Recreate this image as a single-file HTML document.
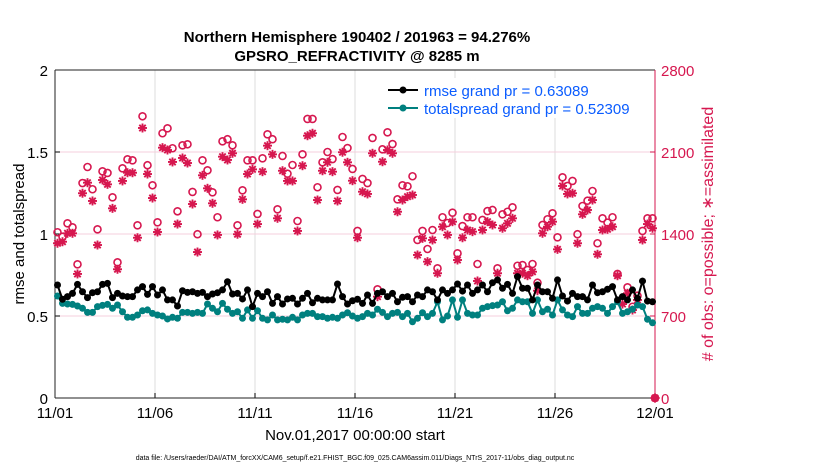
<!DOCTYPE html>
<html><head><meta charset="utf-8"><style>
html,body{margin:0;padding:0;background:#fff;}
svg text{font-family:"Liberation Sans",Arial,sans-serif;}
</style></head><body>
<svg id="chart" width="830" height="470" xmlns="http://www.w3.org/2000/svg">
<rect width="830" height="470" fill="#fff"/>
<text x="357" y="42" font-size="15" font-weight="bold" text-anchor="middle">Northern Hemisphere 190402 / 201963 = 94.276%</text>
<text x="357" y="61" font-size="15" font-weight="bold" text-anchor="middle">GPSRO_REFRACTIVITY @ 8285 m</text>
<g id="grid"></g>
<g id="axes"></g>
<g id="marks"></g>
<text transform="translate(24,234) rotate(-90)" font-size="15" text-anchor="middle">rmse and totalspread</text>
<text transform="translate(713,234) rotate(-90)" font-size="16" text-anchor="middle" fill="#d6174f"># of obs: o=possible; ∗=assimilated</text>
<text x="355" y="440" font-size="15" text-anchor="middle">Nov.01,2017 00:00:00 start</text>
<text x="355" y="460" font-size="7" text-anchor="middle">data file: /Users/raeder/DAI/ATM_forcXX/CAM6_setup/f.e21.FHIST_BGC.f09_025.CAM6assim.011/Diags_NTrS_2017-11/obs_diag_output.nc</text>
<g>
<rect x="383" y="78" width="205" height="40" fill="#fff"/>
<g>
<line x1="388" y1="90" x2="418" y2="90" stroke="#000" stroke-width="2"/>
<circle cx="403" cy="90" r="3.5" fill="#000"/>
<text x="424" y="96" font-size="15" fill="#0a5cff">rmse grand pr = 0.63089</text>
</g>
<g>
<line x1="388" y1="108" x2="418" y2="108" stroke="#00807f" stroke-width="2"/>
<circle cx="403" cy="108" r="3.5" fill="#00807f"/>
<text x="424" y="114" font-size="15" fill="#0a5cff">totalspread grand pr = 0.52309</text>
</g>
</g>
</svg>
<script>
const rmse=[.689,.602,.618,.638,.693,.648,.612,.642,.648,.693,.699,.612,.638,.622,.618,.618,.659,.679,.632,.679,.628,.659,.598,.598,.561,.654,.644,.648,.638,.644,.618,.634,.642,.659,.709,.634,.638,.604,.659,.557,
.638,.618,.648,.577,.618,.573,.604,.608,.573,.608,.638,.581,.608,.598,.598,.598,.695,.618,.573,.593,.602,.577,.628,.577,.638,.648,.618,.638,.587,.614,.618,.587,.628,.618,.659,.648,.598,.659,.638,.659,
.695,.652,.689,.638,.659,.689,.648,.703,.72,.669,.693,.638,.74,.669,.669,.598,.689,.648,.648,.608,.72,.622,.591,.638,.618,.618,.598,.689,.642,.648,.663,.679,.598,.618,.598,.659,.608,.713,.591,.587];
const spread=[.622,.577,.573,.571,.561,.547,.522,.522,.557,.565,.571,.547,.567,.526,.492,.492,.506,.532,.537,.516,.506,.500,.482,.492,.486,.522,.522,.516,.522,.516,.573,.547,.526,.577,.541,.516,.526,.486,.537,.486,
.532,.486,.476,.506,.476,.480,.476,.492,.476,.506,.516,.516,.496,.496,.486,.492,.486,.506,.520,.500,.486,.496,.516,.506,.541,.522,.496,.516,.522,.496,.516,.465,.486,.520,.496,.516,.587,.476,.500,.598,
.492,.598,.516,.506,.506,.547,.557,.563,.567,.587,.532,.547,.598,.587,.587,.516,.598,.526,.541,.506,.598,.537,.506,.496,.557,.516,.516,.547,.557,.547,.516,.557,.587,.516,.526,.541,.567,.557,.480,.459];
const possible=[1415,1377,1491,1457,1141,1835,1972,1782,1440,1935,1921,1713,1158,1961,2038,2029,1474,2405,1987,1816,1500,2260,2302,2132,1594,2157,2166,1759,1398,2029,1944,1756,1543,2191,2209,2157,1474,1773,2029,2029,
1571,2046,2251,2209,1611,2066,1915,1989,1511,2080,2382,2382,1799,2012,2100,2040,1776,2228,2134,1955,1426,1870,1835,2220,928,2123,2268,2168,1696,1816,1807,1893,1349,1426,1272,1434,1107,1543,1494,1582,
1235,1468,1543,1543,1144,1520,1596,1605,1107,1568,1590,1628,1129,1135,1093,1144,984,1477,1526,1577,1372,1884,1810,1853,1398,1639,1684,1767,1321,1534,1497,1543,1059,837,945,779,873,1426,1534,1534,0];
const assimilated=[1321,1334,1406,1406,1059,1748,1838,1682,1306,1861,1824,1619,1099,1853,1923,1923,1368,2305,1912,1707,1417,2137,2117,2015,1485,2049,2006,1656,1246,1901,1790,1662,1392,2060,2032,2089,1398,1696,1912,1952,
1485,1932,2154,2080,1534,1940,1853,1853,1426,1983,2239,2260,1690,1940,2012,1932,1682,2098,2012,1855,1368,1761,1742,2089,865,2017,2117,2089,1590,1690,1719,1733,1221,1363,1164,1349,1065,1462,1392,1505,
1178,1368,1434,1420,999,1434,1505,1477,1065,1449,1491,1534,1065,1065,1044,1078,916,1406,1462,1505,1269,1810,1742,1748,1321,1568,1605,1690,1227,1434,1440,1462,1044,802,894,751,837,1349,1485,1449,0];
const xTickLabels=['11/01','11/06','11/11','11/16','11/21','11/26','12/01'];
const xTickDays=[0,5,10,15,20,25,30];
const yLeftTicks=[0,0.5,1,1.5,2];
const yRightTicks=[0,700,1400,2100,2800];

const NS='http://www.w3.org/2000/svg';
const L=55,R=655,T=70,B=398;
const xs=d=>L+(R-L)*d/30;
const yl=v=>B-(B-T)*v/2;
const yr=v=>B-(B-T)*v/2800;
const dayOf=i=>i<120? i*0.25+0.125 : 30;
const CR='#d6174f', TE='#00807f';
function mk(tag,attrs,parent){const e=document.createElementNS(NS,tag);for(const k in attrs)e.setAttribute(k,attrs[k]);parent.appendChild(e);return e;}
const grid=document.getElementById('grid'),axes=document.getElementById('axes'),marks=document.getElementById('marks');

xTickDays.forEach((d,k)=>{
  if(d>0&&d<30){const g=mk('line',{x1:xs(d),x2:xs(d),y1:T,y2:B,stroke:'#dcdcdc','stroke-width':1},grid);
  
  }
  const t=mk('line',{x1:xs(d),x2:xs(d),y1:B,y2:B-5,stroke:'#000'},axes);
  
  
  const lb=mk('text',{x:xs(d),y:B+20,'font-size':15,'text-anchor':'middle'},axes);lb.textContent=xTickLabels[k];
  
  
});
yRightTicks.forEach(v=>{
  if(v>0&&v<2800){const g=mk('line',{x1:L,x2:R,y1:yr(v),y2:yr(v),stroke:'#f6cfdc','stroke-width':1},grid);
  
  }
  mk('line',{x1:R,x2:R-5,y1:yr(v),y2:yr(v),stroke:CR},axes);
  const lb=mk('text',{x:R+6,y:yr(v)+6,'font-size':15,fill:CR},axes);lb.textContent=v;
  
  
});
yLeftTicks.forEach(v=>{
  mk('line',{x1:L,x2:L+5,y1:yl(v),y2:yl(v),stroke:'#000'},axes);
  const lb=mk('text',{x:L-7,y:yl(v)+6,'font-size':15,'text-anchor':'end'},axes);lb.textContent=v;
  
  
});
mk('line',{x1:L,x2:R,y1:T,y2:T,stroke:'#222'},axes);
mk('line',{x1:L,x2:R,y1:B,y2:B,stroke:'#222'},axes);
mk('line',{x1:L,x2:L,y1:T,y2:B,stroke:'#222'},axes);
mk('line',{x1:R,x2:R,y1:T,y2:B,stroke:CR},axes);

possible.forEach((v,i)=>{
  const c=mk('circle',{cx:xs(dayOf(i)),cy:yr(v),r:3.5,fill:'none',stroke:CR,'stroke-width':1.6},marks);
  
  
});
assimilated.forEach((v,i)=>{
  const x=xs(dayOf(i)),y=yr(v),s=4.5,g=mk('g',{stroke:CR,'stroke-width':1.9},marks);
  
  
  mk('line',{x1:x-s,x2:x+s,y1:y,y2:y},g);mk('line',{x1:x,x2:x,y1:y-s,y2:y+s},g);
  mk('line',{x1:x-3.2,x2:x+3.2,y1:y-3.2,y2:y+3.2},g);mk('line',{x1:x-3.2,x2:x+3.2,y1:y+3.2,y2:y-3.2},g);
});
const dm=mk('path',{d:`M${xs(30)} ${B-5} L${xs(30)+5} ${B} L${xs(30)} ${B+5} L${xs(30)-5} ${B}Z`,fill:CR},marks);



function series(arr,color,name){
  const pts=arr.map((v,i)=>xs(dayOf(i))+','+yl(v)).join(' ');
  const pl=mk('polyline',{points:pts,fill:'none',stroke:color,'stroke-width':2},marks);
  
  
  arr.forEach((v,i)=>{const c=mk('circle',{cx:xs(dayOf(i)),cy:yl(v),r:3.5,fill:color},marks);
  
  });
}
series(spread,TE,'totalspread');
series(rmse,'#000','rmse');
</script>
</body></html>
